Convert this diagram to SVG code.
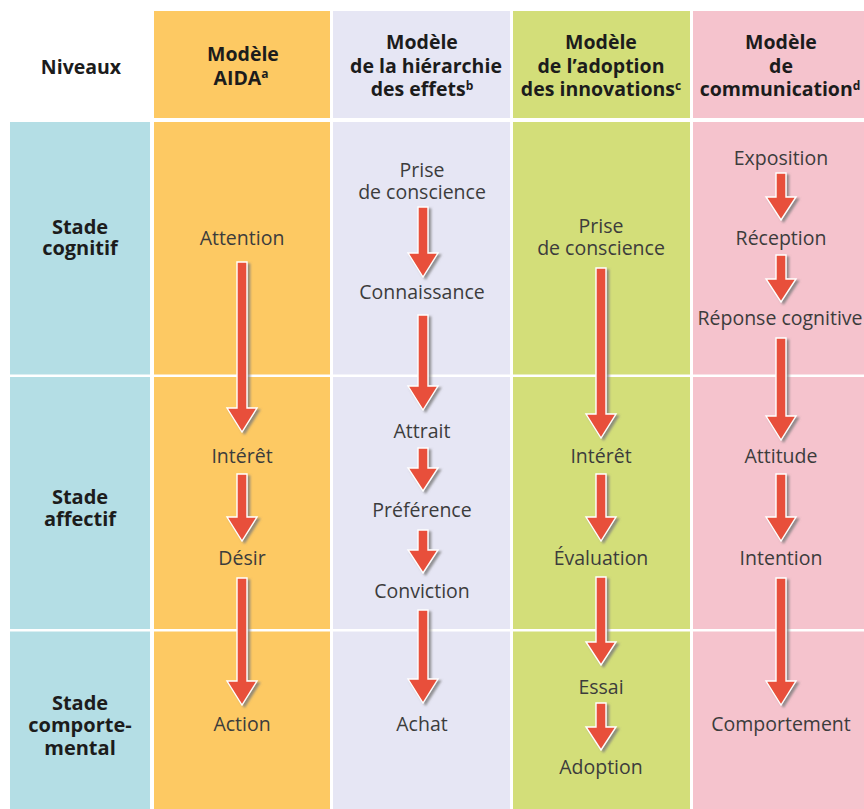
<svg xmlns="http://www.w3.org/2000/svg" width="864" height="809" viewBox="0 0 864 809">
  <style>
    .hd { font-family: "Open Sans", "Noto Sans", sans-serif; font-weight: 700; font-size: 19.5px; fill: #1c1c1c; text-anchor: middle; }
    .sup { font-size: 12px; }
    .lv { font-family: "Open Sans", "Noto Sans", sans-serif; font-weight: 700; font-size: 20px; fill: #1c1c1c; text-anchor: middle; }
    .t { font-family: "Open Sans", "Noto Sans", sans-serif; font-size: 19.5px; fill: #3c3c3c; text-anchor: middle; }
    .arrow { fill: #e8503a; stroke: #ffffff; stroke-width: 1.4; filter: url(#shade); }
    .sep { fill: #ffffff; }
  </style>
  <defs>
    <filter id="shade" x="-50%" y="-10%" width="200%" height="130%">
      <feDropShadow dx="2.5" dy="2" stdDeviation="0.8" flood-color="#7a7a7a" flood-opacity="0.8"/>
    </filter>
  </defs>

  <rect width="864" height="809" fill="#ffffff"/>

  <!-- column backgrounds -->
  <g id="backgrounds">
    <rect x="154" y="11" width="176" height="107" fill="#fdc963"/>
    <rect x="333" y="11" width="177" height="107" fill="#e6e6f4"/>
    <rect x="513" y="11" width="177" height="107" fill="#d3de79"/>
    <rect x="693" y="11" width="171" height="107" fill="#f5c3cd"/>

    <rect x="10" y="122" width="140" height="687" fill="#b4dee5"/>
    <rect x="154" y="122" width="176" height="687" fill="#fdc963"/>
    <rect x="333" y="122" width="177" height="687" fill="#e6e6f4"/>
    <rect x="513" y="122" width="177" height="687" fill="#d3de79"/>
    <rect x="693" y="122" width="171" height="687" fill="#f5c3cd"/>

    <rect class="sep" x="10" y="374.5" width="854" height="2.5"/>
    <rect class="sep" x="10" y="629" width="854" height="2.5"/>
  </g>

  <!-- header -->
  <g id="header-niveaux"><text class="hd" x="81" y="74">Niveaux</text></g>
  <g id="header-aida">
    <text class="hd" x="243" y="61">Modèle</text>
    <text class="hd" x="241" y="85">AIDA<tspan class="sup" dy="-7">a</tspan></text>
  </g>
  <g id="header-hierarchie">
    <text class="hd" x="422" y="49">Modèle</text>
    <text class="hd" x="426" y="73">de la hiérarchie</text>
    <text class="hd" x="422" y="96">des effets<tspan class="sup" dy="-6">b</tspan></text>
  </g>
  <g id="header-adoption">
    <text class="hd" x="601" y="49">Modèle</text>
    <text class="hd" x="601" y="73">de l’adoption</text>
    <text class="hd" x="601" y="96">des innovations<tspan class="sup" dy="-6">c</tspan></text>
  </g>
  <g id="header-communication">
    <text class="hd" x="781" y="49">Modèle</text>
    <text class="hd" x="781" y="73">de</text>
    <text class="hd" x="780" y="96">communication<tspan class="sup" dy="-6">d</tspan></text>
  </g>

  <!-- level labels -->
  <g id="stade-cognitif">
    <text class="lv" x="80" y="234">Stade</text>
    <text class="lv" x="80" y="255">cognitif</text>
  </g>
  <g id="stade-affectif">
    <text class="lv" x="80" y="504">Stade</text>
    <text class="lv" x="80" y="526">affectif</text>
  </g>
  <g id="stade-comportemental">
    <text class="lv" x="80" y="710">Stade</text>
    <text class="lv" x="80" y="732">comporte-</text>
    <text class="lv" x="80" y="755">mental</text>
  </g>

  <!-- AIDA -->
  <g id="aida-attention"><text class="t" x="242" y="245">Attention</text></g>
  <g id="aida-interet"><text class="t" x="242" y="463">Intérêt</text></g>
  <g id="aida-desir"><text class="t" x="242" y="565">Désir</text></g>
  <g id="aida-action"><text class="t" x="242" y="731">Action</text></g>

  <!-- hiérarchie des effets -->
  <g id="hier-prise">
    <text class="t" x="422" y="177">Prise</text>
    <text class="t" x="422" y="199">de conscience</text>
  </g>
  <g id="hier-connaissance"><text class="t" x="422" y="299">Connaissance</text></g>
  <g id="hier-attrait"><text class="t" x="422" y="438">Attrait</text></g>
  <g id="hier-preference"><text class="t" x="422" y="517">Préférence</text></g>
  <g id="hier-conviction"><text class="t" x="422" y="598">Conviction</text></g>
  <g id="hier-achat"><text class="t" x="422" y="731">Achat</text></g>

  <!-- adoption des innovations -->
  <g id="adop-prise">
    <text class="t" x="601" y="233">Prise</text>
    <text class="t" x="601" y="255">de conscience</text>
  </g>
  <g id="adop-interet"><text class="t" x="601" y="463">Intérêt</text></g>
  <g id="adop-evaluation"><text class="t" x="601" y="565">Évaluation</text></g>
  <g id="adop-essai"><text class="t" x="601" y="694">Essai</text></g>
  <g id="adop-adoption"><text class="t" x="601" y="774">Adoption</text></g>

  <!-- communication -->
  <g id="comm-exposition"><text class="t" x="781" y="165">Exposition</text></g>
  <g id="comm-reception"><text class="t" x="781" y="245">Réception</text></g>
  <g id="comm-reponse"><text class="t" x="780" y="325">Réponse cognitive</text></g>
  <g id="comm-attitude"><text class="t" x="781" y="463">Attitude</text></g>
  <g id="comm-intention"><text class="t" x="781" y="565">Intention</text></g>
  <g id="comm-comportement"><text class="t" x="781" y="731">Comportement</text></g>

  <!-- connectors: shaft 10 wide, head 30 wide, 24 long -->
  <g id="connectors">
    <!-- AIDA, x=242 -->
    <path class="arrow" d="M237,262 H247 V408 H257 L242,432 L227,408 H237 Z"/>
    <path class="arrow" d="M237,474 H247 V517 H257 L242,541 L227,517 H237 Z"/>
    <path class="arrow" d="M237,578 H247 V681 H257 L242,705 L227,681 H237 Z"/>
    <!-- hiérarchie, x=423 -->
    <path class="arrow" d="M418,207 H428 V253 H438 L423,277 L408,253 H418 Z"/>
    <path class="arrow" d="M418,315 H428 V386 H438 L423,410 L408,386 H418 Z"/>
    <path class="arrow" d="M418,448 H428 V468 H438 L423,491 L408,468 H418 Z"/>
    <path class="arrow" d="M418,530 H428 V550 H438 L423,573 L408,550 H418 Z"/>
    <path class="arrow" d="M418,610 H428 V679 H438 L423,703 L408,679 H418 Z"/>
    <!-- adoption, x=601 -->
    <path class="arrow" d="M596,268 H606 V414 H616 L601,438 L586,414 H596 Z"/>
    <path class="arrow" d="M596,474 H606 V517 H616 L601,541 L586,517 H596 Z"/>
    <path class="arrow" d="M596,577 H606 V642 H616 L601,665 L586,642 H596 Z"/>
    <path class="arrow" d="M596,703 H606 V727 H616 L601,750 L586,727 H596 Z"/>
    <!-- communication, x=781 -->
    <path class="arrow" d="M776,173 H786 V197 H796 L781,220 L766,197 H776 Z"/>
    <path class="arrow" d="M776,255 H786 V279 H796 L781,302 L766,279 H776 Z"/>
    <path class="arrow" d="M776,338 H786 V416 H796 L781,440 L766,416 H776 Z"/>
    <path class="arrow" d="M776,474 H786 V517 H796 L781,541 L766,517 H776 Z"/>
    <path class="arrow" d="M776,578 H786 V681 H796 L781,705 L766,681 H776 Z"/>
  </g>
</svg>
